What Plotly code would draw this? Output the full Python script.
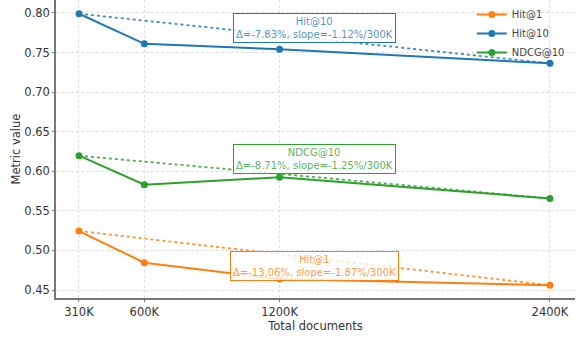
import plotly.graph_objects as go

docs_k = [310, 600, 1200, 2400]
tick_labels = ["310K", "600K", "1200K", "2400K"]
hit1 = [0.5245, 0.4845, 0.4639, 0.4560]
hit10 = [0.7990, 0.7610, 0.7542, 0.7364]
ndcg10 = [0.6197, 0.5830, 0.5925, 0.5657]

series = [
    ("Hit@1", hit1, "#ff7f0e", "rgba(255,127,14,0.8)", "Δ=-13.06%, slope=-1.87%/300K", 0.4803),
    ("Hit@10", hit10, "#1f77b4", "rgba(31,119,180,0.8)", "Δ=-7.83%, slope=-1.12%/300K", 0.7804),
    ("NDCG@10", ndcg10, "#2ca02c", "rgba(44,160,44,0.8)", "Δ=-8.71%, slope=-1.25%/300K", 0.6149),
]

FONT = "DejaVu Sans"
fig = go.Figure()
for name, vals, color, soft, txt, ay in series:
    fig.add_trace(go.Scatter(
        x=docs_k, y=vals, mode="lines+markers", name=name,
        line=dict(color=color, width=2), marker=dict(size=7, color=color),
    ))
for name, vals, color, soft, txt, ay in series:
    fig.add_trace(go.Scatter(
        x=[docs_k[0], docs_k[-1]], y=[vals[0], vals[-1]], mode="lines",
        line=dict(color=color, width=1.8, dash="dot"), opacity=0.85,
        showlegend=False, hoverinfo="skip",
    ))
    fig.add_annotation(
        x=(docs_k[0] + docs_k[-1]) / 2, y=ay, text=f"{name}<br>{txt}",
        showarrow=False, font=dict(family=FONT, size=10, color=soft),
        bgcolor="rgba(255,255,255,0.8)", bordercolor=color, borderwidth=1,
        borderpad=2,
    )

fig.update_layout(
    width=576, height=338,
    margin=dict(l=56, r=1, t=0, b=40),
    paper_bgcolor="white", plot_bgcolor="white",
    font=dict(family=FONT, size=11.5, color="#333"),
    showlegend=True,
    legend=dict(x=0.99, y=1.0, xanchor="right", yanchor="top",
                font=dict(family=FONT, size=10, color="#444"),
                bgcolor="rgba(255,255,255,0)", tracegroupgap=0),
    xaxis=dict(
        range=[208, 2511], tickvals=docs_k, ticktext=tick_labels,
        showgrid=True, gridcolor="#e0e0e0", griddash="3px,2px", gridwidth=1,
        showline=True, linecolor="#777", linewidth=1.5, zeroline=False,
        ticks="outside", ticklen=2, tickcolor="#777", automargin=False,
        title=dict(text="Total documents", font=dict(size=11.5), standoff=1),
    ),
    yaxis=dict(
        range=[0.4399, 0.8164], tickvals=[0.45, 0.50, 0.55, 0.60, 0.65, 0.70, 0.75, 0.80],
        tickformat=".2f",
        showgrid=True, gridcolor="#e0e0e0", griddash="3px,2px", gridwidth=1,
        showline=True, linecolor="#777", linewidth=1.5, zeroline=False,
        ticks="outside", ticklen=2, tickcolor="#777", automargin=False,
        title=dict(text="Metric value", font=dict(size=11.5), standoff=1),
    ),
)
fig.write_html("out.html", post_script="document.body.style.margin='0';",
               config={"displayModeBar": False})
